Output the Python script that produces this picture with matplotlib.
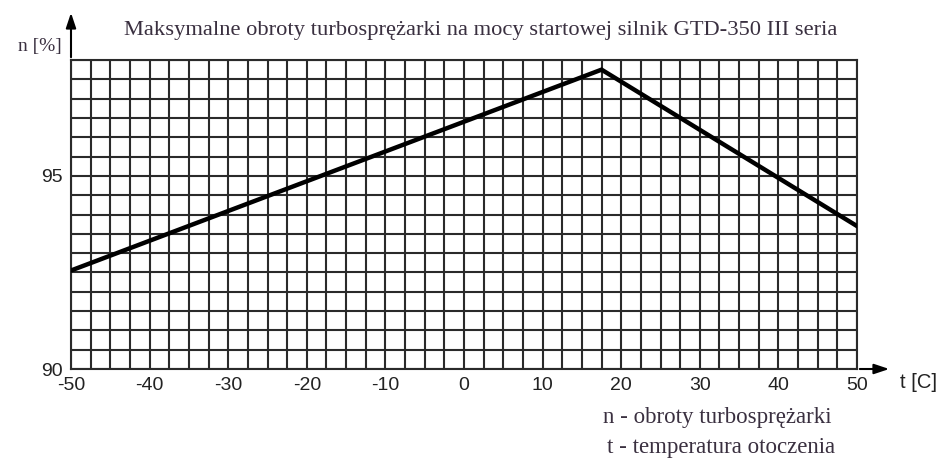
import matplotlib
matplotlib.use("Agg")
import matplotlib.pyplot as plt
import numpy as np

plt.rcParams['axes.unicode_minus'] = False

# data
t_vals = [-50, 17.5, 50]
n_vals = [92.55, 97.75, 93.7]
x_ticks = [-50, -40, -30, -20, -10, 0, 10, 20, 30, 40, 50]
y_ticks = [90, 95]
title = "Maksymalne obroty turbosprężarki na mocy startowej silnik GTD-350 III seria"
note1 = "n - obroty turbosprężarki"
note2 = "t - temperatura otoczenia"

fig = plt.figure(figsize=(9.5, 4.63), dpi=100)
L, R, B, T = 71/950, 857/950, 1-369/463, 1-60/463
ax = fig.add_axes([L, B, R-L, T-B])
ax.set_xlim(-50, 50)
ax.set_ylim(90, 98)

ax.set_xticks(x_ticks)
ax.set_yticks(y_ticks)
ax.set_xticks(np.arange(-50, 50.01, 2.5), minor=True)
ax.set_yticks(np.arange(90, 98.01, 0.5), minor=True)
ax.grid(which='both', color='#2a2a2a', linewidth=1.5)
ax.set_axisbelow(True)
ax.tick_params(which='both', length=0)
ax.tick_params(axis='x', pad=6, labelsize=14, labelcolor='#222222')
ax.tick_params(axis='y', pad=6, labelsize=14, labelcolor='#222222')
for s in ax.spines.values():
    s.set_color('#2a2a2a')
    s.set_linewidth(1.5)
for lbl in ax.get_xticklabels() + ax.get_yticklabels():
    lbl.set_family('Liberation Sans')

ax.plot(t_vals, n_vals, color='black', linewidth=3.2, solid_joinstyle='miter', zorder=5)

# axis arrows
ax.annotate('', xy=(L, 1-10/463), xytext=(L, T), xycoords='figure fraction',
            textcoords='figure fraction',
            arrowprops=dict(arrowstyle='-|>,head_length=0.9,head_width=0.3', color='black', lw=1.5))
ax.annotate('', xy=(892/950, B), xytext=(R, B), xycoords='figure fraction',
            textcoords='figure fraction',
            arrowprops=dict(arrowstyle='-|>,head_length=0.9,head_width=0.3', color='black', lw=1.5))

serif = 'Liberation Serif'
fig.text(481/950, 1-31/463, title, ha='center', va='center', family=serif,
         fontsize=16.2, color='#3a3040')
fig.text(40/950, 1-47/463, 'n [%]', ha='center', va='center', family=serif,
         fontsize=14, color='#3a3040')
fig.text(918/950, 1-383/463, 't [C]', ha='center', va='center', family='Liberation Sans',
         fontsize=14.5, color='#222222')
fig.text(603/950, 1-418/463, note1, ha='left', va='center', family=serif,
         fontsize=16.5, color='#3a3040')
fig.text(607/950, 1-447/463, note2, ha='left', va='center', family=serif,
         fontsize=16.5, color='#3a3040')

fig.savefig('out.png', dpi=100)
